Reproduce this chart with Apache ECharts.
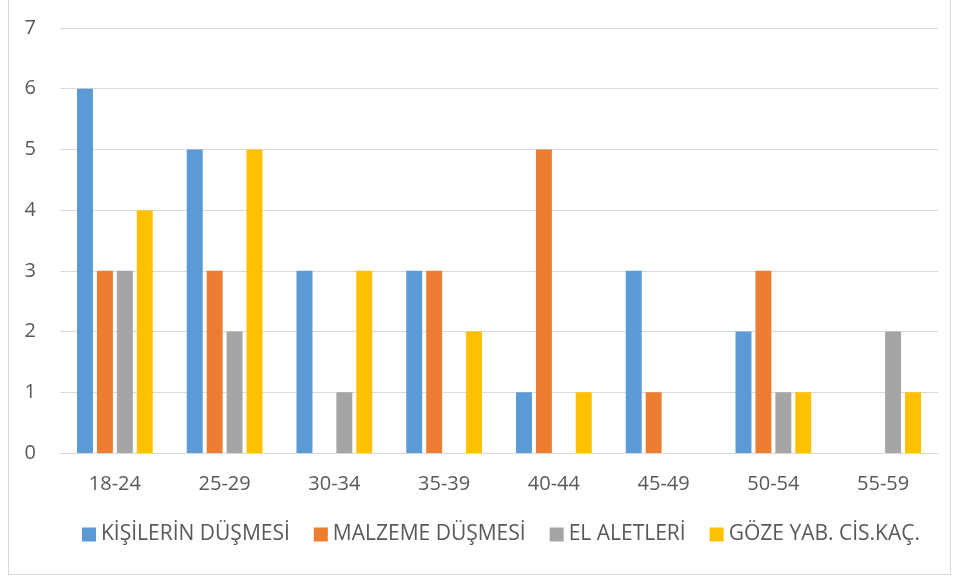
<!DOCTYPE html>
<html>
<head>
<meta charset="utf-8">
<script src="https://cdn.jsdelivr.net/npm/echarts@6/dist/echarts.min.js"></script>
<style>
  html, body { margin: 0; padding: 0; background: #fff; }
  #frame { position: absolute; left: 8px; top: 0; width: 941px; height: 574px; border: 1px solid #d9d9d9; border-top: none; }
  #chart { position: absolute; left: 0; top: 0; width: 960px; height: 578px; }
</style>
</head>
<body>
<div id="frame"></div>
<div id="chart"></div>
<script>
// 年龄组
const categories = ['18-24', '25-29', '30-34', '35-39', '40-44', '45-49', '50-54', '55-59']
const seriesNames = ['KİŞİLERİN DÜŞMESİ', 'MALZEME DÜŞMESİ', 'EL ALETLERİ', 'GÖZE YAB. CİS.KAÇ.']
const kisilerinDusmesi = [6, 5, 3, 3, 1, 3, 2, 0]
const malzemeDusmesi = [3, 3, 0, 3, 5, 1, 3, 0]
const elAletleri = [3, 2, 1, 0, 0, 0, 1, 2]
const gozeYabCis = [4, 5, 3, 2, 1, 0, 1, 1]
const colors = ['#5B9BD5', '#ED7D31', '#A5A5A5', '#FFC000']

const font = 'Open Sans, Liberation Sans, sans-serif'
const chart = echarts.init(document.getElementById('chart'))

const dataList = [kisilerinDusmesi, malzemeDusmesi, elAletleri, gozeYabCis]

chart.setOption({
  animation: false,
  color: colors,
  grid: { left: 60, right: 22, top: 28, bottom: 125 },
  legend: {
    data: seriesNames,
    bottom: 28,
    left: 77,
    itemWidth: 14,
    itemHeight: 14,
    itemGap: 24,
    icon: 'rect',
    textStyle: { color: '#595959', fontSize: 21, fontFamily: font }
  },
  xAxis: {
    type: 'category',
    data: categories,
    axisTick: { show: false },
    axisLine: { lineStyle: { color: '#d9d9d9', width: 1 } },
    axisLabel: { color: '#595959', fontSize: 20, fontFamily: font, margin: 21 }
  },
  yAxis: {
    type: 'value',
    min: 0,
    max: 7,
    interval: 1,
    axisLine: { show: false },
    axisTick: { show: false },
    splitLine: { lineStyle: { color: '#d9d9d9' } },
    axisLabel: { color: '#595959', fontSize: 20, fontFamily: font, margin: 24 }
  },
  series: dataList.map((d, i) => ({
    name: seriesNames[i],
    type: 'bar',
    data: d,
    barGap: '25%',
    barCategoryGap: '31%'
  }))
})
</script>
</body>
</html>
